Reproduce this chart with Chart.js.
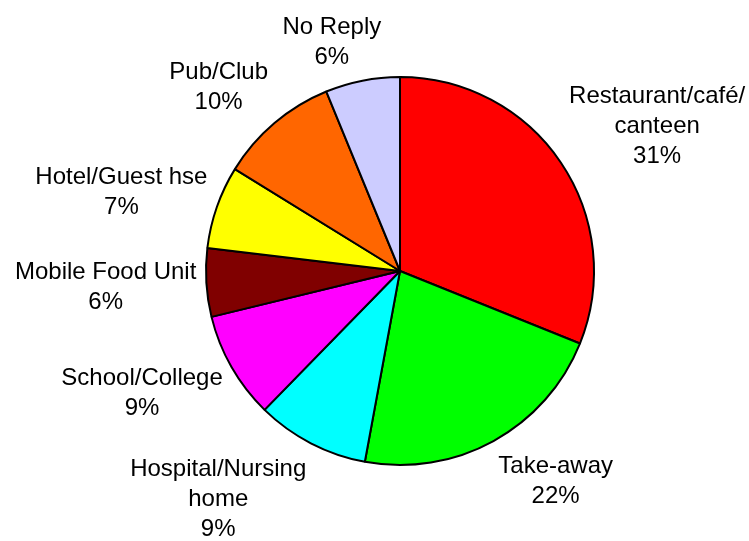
<!DOCTYPE html>
<html>
<head>
<meta charset="utf-8">
<title>Outlet type</title>
<script src="https://cdn.jsdelivr.net/npm/chart.js"></script>
<style>
    html, body { margin: 0; padding: 0; background: #ffffff; }
    #wrap { position: relative; width: 749px; height: 541px; }
</style>
</head>
<body>
<div id="wrap"><canvas id="pieChart" width="749" height="541"></canvas></div>
<script>
// Slice data, clockwise from 12 o'clock
const categories = [
    'Restaurant/café/\ncanteen',
    'Take-away',
    'Hospital/Nursing\nhome',
    'School/College',
    'Mobile Food Unit',
    'Hotel/Guest hse',
    'Pub/Club',
    'No Reply'
];
const shares = [31.1, 21.8, 9.4, 8.9, 5.7, 6.9, 10.0, 6.2];
const sliceColors = ['#FF0000', '#00FF00', '#00FFFF', '#FF00FF', '#800000', '#FFFF00', '#FF6600', '#CCCCFF'];

const LABEL_FONT = '24px "Liberation Sans", Arial, sans-serif';
const LINE_H = 30;

// Draws the "name + percent" labels outside each slice, roughly the way Excel does
const outsideLabels = {
    id: 'outsideLabels',
    afterDraw(chart) {
        const ctx = chart.ctx;
        const meta = chart.getDatasetMeta(0);
        const values = chart.data.datasets[0].data;
        const total = values.reduce((a, b) => a + b, 0);
        const clamp = v => Math.max(-1, Math.min(1, v));

        ctx.save();
        ctx.font = LABEL_FONT;
        ctx.fillStyle = '#000000';
        ctx.textAlign = 'center';
        ctx.textBaseline = 'alphabetic';

        meta.data.forEach((arc, i) => {
            const lines = chart.data.labels[i].split('\n');
            lines.push(Math.round(values[i] / total * 100) + '%');

            const w = Math.max(...lines.map(l => ctx.measureText(l).width));
            const h = lines.length * LINE_H;
            const mid = (arc.startAngle + arc.endAngle) / 2;
            const ux = Math.cos(mid);
            const uy = Math.sin(mid);
            const r = arc.outerRadius + 10;

            const cx = arc.x + r * ux + (w / 2) * clamp(3 * ux);
            const cy = arc.y + r * uy + (h / 2) * clamp(1.3 * uy);

            lines.forEach((line, j) => {
                const capMid = cy - (lines.length - 1) / 2 * LINE_H + j * LINE_H;
                ctx.fillText(line, cx, capMid + 8.6);
            });
        });
        ctx.restore();
    }
};

const chart = new Chart(document.getElementById('pieChart').getContext('2d'), {
    type: 'pie',
    data: {
        labels: categories,
        datasets: [{
            data: shares,
            backgroundColor: sliceColors,
            borderColor: '#000000',
            borderWidth: 2
        }]
    },
    options: {
        responsive: false,
        animation: false,
        layout: {
            padding: { left: 205, right: 154, top: 76, bottom: 75 }
        },
        plugins: {
            legend: { display: false },
            tooltip: { enabled: false }
        }
    },
    plugins: [outsideLabels]
});
</script>
</body>
</html>
